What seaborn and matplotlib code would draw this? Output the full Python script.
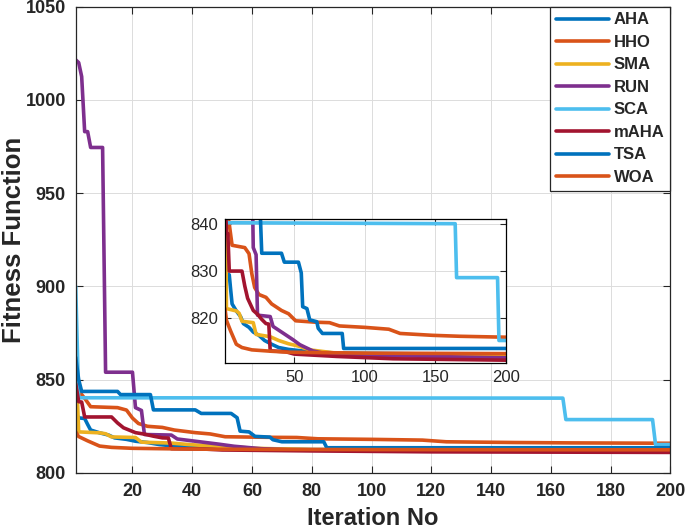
import pandas as pd
import seaborn as sns
import matplotlib.pyplot as plt

sns.set_style("ticks")
plt.rcParams['font.family'] = ['Liberation Sans', 'DejaVu Sans']

# convergence curves (iteration, best fitness)
algorithms = ["AHA", "HHO", "SMA", "RUN", "SCA", "mAHA", "TSA", "WOA"]
colors = ["#0072BD", "#D95319", "#EDB120", "#7E2F8E", "#4DBEEE", "#A2142F", "#0072BD", "#D95319"]

aha_it = [1, 2, 4, 5, 6, 9, 12, 14, 18, 21, 25, 29, 34, 39, 46, 55, 80, 200]
aha_fit = [832, 829.5, 829.2, 826, 823, 821.5, 820.3, 818.8, 818, 817, 816.3, 815.2, 814.4, 813.7, 813.3, 813, 812.5, 812.2]

hho_it = [1, 4, 6, 15, 18, 20, 22, 25, 30, 34, 41, 46, 51, 65, 75, 82, 100, 117, 125, 148, 167, 200]
hho_fit = [846, 840, 835.5, 835, 833.7, 829.4, 826.5, 825, 824.4, 823, 821.6, 820.9, 819.4, 819.1, 819, 818.3, 818, 817.6, 816.7, 816.3, 816.1, 815.9]

sma_it = [1, 2, 9, 11, 13, 21, 23, 33, 39, 46, 53, 61, 80, 200]
sma_fit = [863, 822, 821.5, 821, 819.3, 819, 816.5, 816, 815.2, 814.5, 814, 813.2, 812.5, 812]

run_it = [1, 2, 3, 4, 5, 6, 10, 11, 20, 21, 23, 24, 33, 35, 44, 49, 54, 63, 75, 200]
run_fit = [1021.5, 1020, 1012.5, 983, 983, 974.5, 974.5, 854, 854, 835, 833.5, 820.6, 820.3, 818.2, 816.4, 815.4, 814.3, 813, 812.2, 811.5]

sca_it = [1, 2, 164, 165, 194, 195, 200]
sca_fit = [900, 840.3, 840.1, 828.6, 828.6, 815.2, 815.2]

maha_it = [1, 2, 3, 4, 13, 15, 17, 21, 24, 27, 30, 32, 33, 44, 50, 80, 120, 200]
maha_fit = [848, 838.2, 838, 830, 830, 826.8, 824.2, 821.6, 820.8, 819.7, 818.8, 818.7, 813, 812.8, 812.3, 811.8, 811.3, 811]

tsa_it = [1, 2, 3, 15, 16, 26, 27, 41, 43, 53, 55, 56, 59, 61, 66, 67, 70, 84, 85, 200]
tsa_fit = [862, 850, 843.7, 843.7, 842, 842, 833.8, 833.8, 831.9, 831.9, 829.6, 822.4, 822, 819.6, 819.2, 817.8, 816.7, 816.7, 813.5, 813.5]

woa_it = [1, 2, 5, 7, 9, 13, 20, 34, 46, 100, 200]
woa_fit = [822, 819.5, 817.2, 815.8, 814.4, 813.7, 813.2, 812.9, 812.7, 812.5, 812.4]

series = {
    "AHA": (aha_it, aha_fit), "HHO": (hho_it, hho_fit), "SMA": (sma_it, sma_fit),
    "RUN": (run_it, run_fit), "SCA": (sca_it, sca_fit), "mAHA": (maha_it, maha_fit),
    "TSA": (tsa_it, tsa_fit), "WOA": (woa_it, woa_fit),
}

fig = plt.figure(figsize=(6.85, 5.29), dpi=100)
ax = fig.add_axes([0.1105, 0.106, 0.8683, 0.8814])
ins = fig.add_axes([0.3285, 0.3138, 0.4102, 0.2722])

for name, col in zip(algorithms, colors):
    it, fit = series[name]
    df = pd.DataFrame({"it": it, "fit": fit})
    sns.lineplot(data=df, x="it", y="fit", ax=ax, color=col, lw=2.6, label=name,
                 sort=False, estimator=None)
    sns.lineplot(data=df, x="it", y="fit", ax=ins, color=col, lw=2.6,
                 sort=False, estimator=None, legend=False)

# main axes
ax.set_xlim(1, 200)
ax.set_ylim(800, 1050)
ax.set_xticks(range(20, 201, 20))
ax.set_yticks(range(800, 1051, 50))
ax.grid(True, color="#dcdcdc", lw=0.7)
ax.tick_params(direction="in", top=True, right=True, length=5, width=0.8, pad=7,
               labelsize=13)
for lbl in ax.get_xticklabels() + ax.get_yticklabels():
    lbl.set_fontweight("bold")
ax.set_xlabel("Iteration No", fontsize=17, fontweight="bold", labelpad=5)
ax.set_ylabel("Fitness Function", fontsize=18.5, fontweight="bold")
ax.yaxis.set_label_coords(-0.0836, 0.5)
for sp in ax.spines.values():
    sp.set_color("#262626")
    sp.set_linewidth(0.9)

leg = ax.legend(loc="upper right", borderaxespad=0, fancybox=False, framealpha=1,
                edgecolor="#262626", handlelength=3.2, handletextpad=0.3,
                borderpad=0.35, labelspacing=0.45,
                prop={"weight": "bold", "size": 12})
leg.get_frame().set_linewidth(0.9)

# inset zoom
ins.set_xlim(1, 200)
ins.set_ylim(810.4, 841.1)
ins.set_xticks([50, 100, 150, 200])
ins.set_yticks([820, 830, 840])
ins.grid(True, color="#dcdcdc", lw=0.7)
ins.tick_params(direction="in", top=True, right=True, length=4, width=0.8, pad=5,
                labelsize=12)
ins.set_xlabel("")
ins.set_ylabel("")
for sp in ins.spines.values():
    sp.set_color("#000000")
    sp.set_linewidth(0.9)

fig.savefig("out.png", dpi=100)
